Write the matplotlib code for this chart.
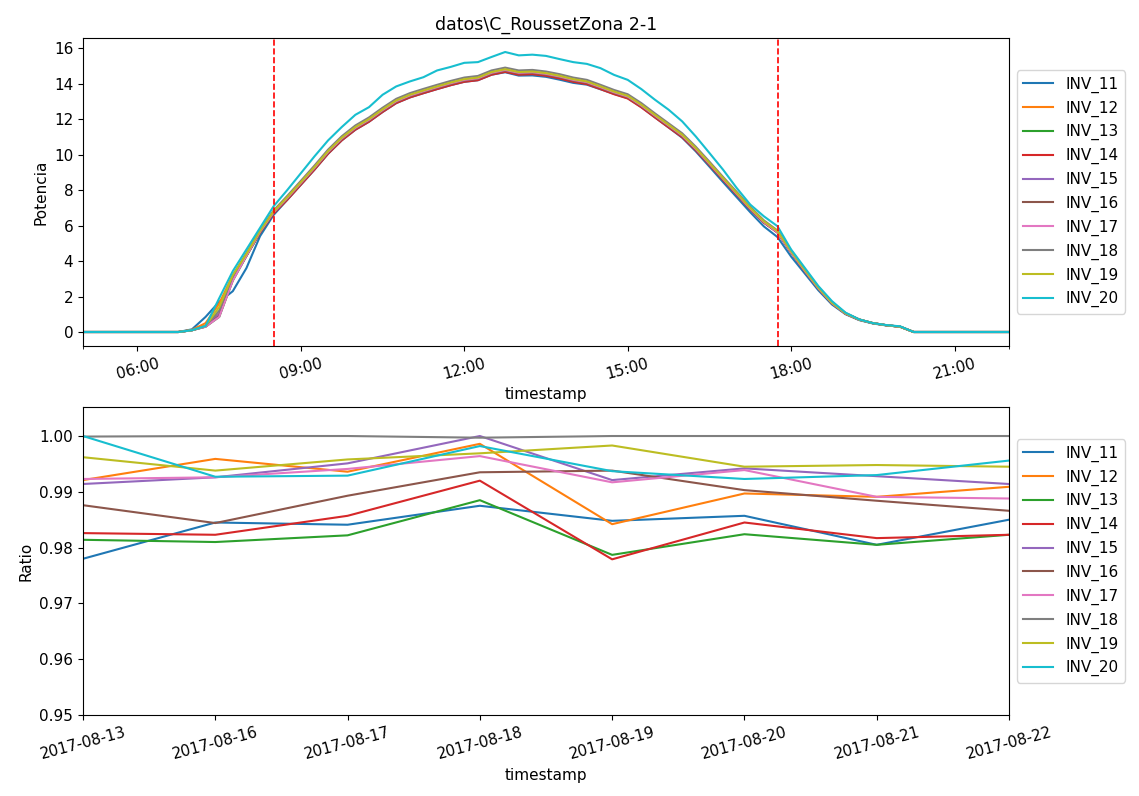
import matplotlib
matplotlib.use("Agg")
import matplotlib.pyplot as plt
import matplotlib.dates as mdates
import pandas as pd

plt.rcParams["font.size"] = 11

# --- top panel: power per inverter, 15 min samples from 05:00 to 22:00
times = pd.date_range("2017-08-22 05:00", "2017-08-22 22:00", freq="15min")

inv_11 = [0, 0, 0, 0, 0, 0, 0, 0,
          0.15, 0.85, 1.7, 2.3, 3.6, 5.4, 6.6, 7.45, 8.3, 9.15, 10.05, 10.8,
          11.4, 11.85, 12.4, 12.9, 13.22, 13.46, 13.69, 13.91, 14.1, 14.19,
          14.5, 14.64, 14.45, 14.46, 14.38, 14.22, 14.04, 13.94, 13.68, 13.42,
          13.18, 12.68, 12.1, 11.53, 10.95, 10.18, 9.32, 8.45, 7.6, 6.75,
          5.95, 5.35, 4.25, 3.3, 2.35, 1.55, 1.0, 0.67, 0.48, 0.37, 0.3,
          0, 0, 0, 0, 0, 0, 0, 0]
inv_12 = [0, 0, 0, 0, 0, 0, 0, 0,
          0.12, 0.5, 1.6, 3.2, 4.4, 5.68, 6.75, 7.53, 8.38, 9.23, 10.13, 10.88,
          11.48, 11.93, 12.48, 12.98, 13.3, 13.54, 13.77, 13.99, 14.18, 14.27,
          14.58, 14.74, 14.58, 14.61, 14.52, 14.37, 14.18, 14.05, 13.77, 13.48,
          13.24, 12.74, 12.17, 11.61, 11.05, 10.3, 9.46, 8.62, 7.78, 6.95,
          6.19, 5.63, 4.5, 3.46, 2.47, 1.63, 1.04, 0.7, 0.5, 0.38, 0.3,
          0, 0, 0, 0, 0, 0, 0, 0]
inv_13 = [0, 0, 0, 0, 0, 0, 0, 0,
          0.1, 0.3, 0.85, 2.9, 4.28, 5.6, 6.72, 7.5, 8.35, 9.2, 10.1, 10.85,
          11.45, 11.9, 12.45, 12.95, 13.27, 13.51, 13.74, 13.96, 14.15, 14.24,
          14.55, 14.71, 14.55, 14.58, 14.49, 14.34, 14.15, 14.02, 13.74, 13.45,
          13.21, 12.71, 12.14, 11.58, 11.03, 10.28, 9.45, 8.6, 7.77, 6.94,
          6.18, 5.62, 4.5, 3.46, 2.47, 1.63, 1.04, 0.7, 0.5, 0.38, 0.3,
          0, 0, 0, 0, 0, 0, 0, 0]
inv_14 = [0, 0, 0, 0, 0, 0, 0, 0,
          0.1, 0.35, 1.0, 3.0, 4.3, 5.6, 6.68, 7.45, 8.3, 9.15, 10.05, 10.8,
          11.4, 11.85, 12.4, 12.9, 13.22, 13.46, 13.69, 13.91, 14.1, 14.19,
          14.5, 14.66, 14.5, 14.53, 14.44, 14.29, 14.1, 13.97, 13.69, 13.4,
          13.16, 12.66, 12.09, 11.53, 10.98, 10.24, 9.41, 8.57, 7.74, 6.91,
          6.16, 5.6, 4.48, 3.44, 2.46, 1.62, 1.03, 0.69, 0.5, 0.38, 0.3,
          0, 0, 0, 0, 0, 0, 0, 0]
inv_15 = [0, 0, 0, 0, 0, 0, 0, 0,
          0.1, 0.32, 1.0, 3.0, 4.35, 5.65, 6.74, 7.54, 8.39, 9.24, 10.14, 10.89,
          11.49, 11.94, 12.49, 12.99, 13.31, 13.55, 13.78, 14.0, 14.19, 14.28,
          14.59, 14.75, 14.59, 14.62, 14.53, 14.38, 14.19, 14.06, 13.78, 13.49,
          13.25, 12.75, 12.18, 11.62, 11.06, 10.31, 9.47, 8.63, 7.79, 6.96,
          6.2, 5.63, 4.51, 3.47, 2.48, 1.64, 1.04, 0.7, 0.5, 0.38, 0.3,
          0, 0, 0, 0, 0, 0, 0, 0]
inv_16 = [0, 0, 0, 0, 0, 0, 0, 0,
          0.1, 0.3, 0.9, 2.95, 4.3, 5.6, 6.72, 7.52, 8.37, 9.22, 10.12, 10.87,
          11.47, 11.92, 12.47, 12.97, 13.29, 13.53, 13.76, 13.98, 14.17, 14.26,
          14.57, 14.73, 14.57, 14.6, 14.51, 14.36, 14.17, 14.04, 13.76, 13.47,
          13.23, 12.73, 12.16, 11.6, 11.05, 10.3, 9.46, 8.62, 7.78, 6.95,
          6.19, 5.63, 4.5, 3.46, 2.47, 1.63, 1.04, 0.7, 0.5, 0.38, 0.3,
          0, 0, 0, 0, 0, 0, 0, 0]
inv_17 = [0, 0, 0, 0, 0, 0, 0, 0,
          0.1, 0.3, 0.85, 2.9, 4.3, 5.65, 6.75, 7.56, 8.41, 9.26, 10.16, 10.91,
          11.51, 11.96, 12.51, 13.01, 13.33, 13.57, 13.8, 14.02, 14.21, 14.3,
          14.61, 14.77, 14.61, 14.64, 14.55, 14.4, 14.21, 14.08, 13.8, 13.51,
          13.27, 12.77, 12.2, 11.64, 11.08, 10.33, 9.49, 8.64, 7.8, 6.96,
          6.2, 5.62, 4.5, 3.46, 2.47, 1.63, 1.04, 0.7, 0.5, 0.38, 0.3,
          0, 0, 0, 0, 0, 0, 0, 0]
inv_18 = [0, 0, 0, 0, 0, 0, 0, 0,
          0.1, 0.35, 1.2, 3.15, 4.45, 5.75, 6.85, 7.67, 8.52, 9.38, 10.28, 11.03,
          11.64, 12.09, 12.64, 13.14, 13.46, 13.7, 13.93, 14.15, 14.34, 14.43,
          14.74, 14.9, 14.74, 14.77, 14.68, 14.53, 14.34, 14.21, 13.93, 13.64,
          13.4, 12.9, 12.32, 11.76, 11.2, 10.44, 9.6, 8.74, 7.9, 7.05,
          6.29, 5.72, 4.6, 3.55, 2.54, 1.68, 1.07, 0.71, 0.5, 0.38, 0.3,
          0, 0, 0, 0, 0, 0, 0, 0]
inv_19 = [0, 0, 0, 0, 0, 0, 0, 0,
          0.1, 0.35, 1.4, 3.2, 4.4, 5.7, 6.8, 7.6, 8.45, 9.3, 10.2, 10.95,
          11.55, 12.0, 12.55, 13.05, 13.37, 13.61, 13.84, 14.06, 14.25, 14.34,
          14.65, 14.81, 14.65, 14.68, 14.59, 14.44, 14.25, 14.12, 13.84, 13.55,
          13.31, 12.81, 12.24, 11.68, 11.12, 10.37, 9.53, 8.68, 7.84, 7.0,
          6.24, 5.68, 4.55, 3.5, 2.5, 1.65, 1.05, 0.7, 0.5, 0.38, 0.3,
          0, 0, 0, 0, 0, 0, 0, 0]
inv_20 = [0, 0, 0, 0, 0, 0, 0, 0,
          0.1, 0.34, 1.9, 3.43, 4.65, 5.87, 7.09, 8.0, 8.95, 9.9, 10.8, 11.55,
          12.24, 12.67, 13.37, 13.84, 14.12, 14.36, 14.74, 14.94, 15.17, 15.21,
          15.5, 15.78, 15.59, 15.63, 15.56, 15.38, 15.21, 15.11, 14.87, 14.49,
          14.21, 13.69, 13.09, 12.53, 11.87, 11.02, 10.09, 9.15, 8.12, 7.18,
          6.52, 5.96, 4.65, 3.62, 2.59, 1.74, 1.09, 0.71, 0.5, 0.39, 0.32,
          0, 0, 0, 0, 0, 0, 0, 0]

power = [inv_11, inv_12, inv_13, inv_14, inv_15, inv_16, inv_17, inv_18, inv_19, inv_20]
names = ["INV_11", "INV_12", "INV_13", "INV_14", "INV_15",
         "INV_16", "INV_17", "INV_18", "INV_19", "INV_20"]

# window limits (red dashed lines)
limits = ["2017-08-22 08:30", "2017-08-22 17:45"]

# --- bottom panel: daily ratio per inverter
days = ["2017-08-13", "2017-08-16", "2017-08-17", "2017-08-18",
        "2017-08-19", "2017-08-20", "2017-08-21", "2017-08-22"]
ratio_11 = [0.9780, 0.9845, 0.9841, 0.9875, 0.9848, 0.9857, 0.9805, 0.9850]
ratio_12 = [0.9921, 0.9959, 0.9936, 0.9986, 0.9842, 0.9897, 0.9891, 0.9909]
ratio_13 = [0.9814, 0.9810, 0.9822, 0.9885, 0.9787, 0.9824, 0.9805, 0.9823]
ratio_14 = [0.9826, 0.9823, 0.9857, 0.9920, 0.9779, 0.9845, 0.9817, 0.9823]
ratio_15 = [0.9914, 0.9926, 0.9951, 1.0000, 0.9921, 0.9942, 0.9928, 0.9914]
ratio_16 = [0.9876, 0.9844, 0.9893, 0.9935, 0.9938, 0.9903, 0.9884, 0.9866]
ratio_17 = [0.9923, 0.9926, 0.9941, 0.9964, 0.9917, 0.9939, 0.9891, 0.9888]
ratio_18 = [0.9999, 1.0000, 1.0000, 0.9997, 1.0000, 1.0000, 1.0000, 1.0000]
ratio_19 = [0.9962, 0.9938, 0.9958, 0.9969, 0.9983, 0.9945, 0.9948, 0.9945]
ratio_20 = [1.0000, 0.9927, 0.9929, 0.9982, 0.9937, 0.9923, 0.9930, 0.9956]
ratios = [ratio_11, ratio_12, ratio_13, ratio_14, ratio_15,
          ratio_16, ratio_17, ratio_18, ratio_19, ratio_20]

fig, (ax1, ax2) = plt.subplots(2, 1, figsize=(11.39, 7.96), dpi=100)
ax1.set_position([83 / 1139, 1 - 346 / 796, 926 / 1139, 308 / 796])
ax2.set_position([83 / 1139, 1 - 715 / 796, 926 / 1139, 308 / 796])

for name, vals in zip(names, power):
    ax1.plot(times, vals, label=name)
for t in limits:
    ax1.axvline(pd.Timestamp(t), color="r", linestyle="--", linewidth=1.2)

ax1.set_xlim(times[0], times[-1])
ax1.xaxis.set_major_locator(mdates.HourLocator(byhour=[6, 9, 12, 15, 18, 21]))
ax1.xaxis.set_major_formatter(mdates.DateFormatter("%H:%M"))
ax1.xaxis.set_minor_locator(mdates.HourLocator(byhour=[5, 22]))
plt.setp(ax1.get_xticklabels(), rotation=15)
ax1.set_yticks(range(0, 17, 2))
ax1.set_xlabel("timestamp")
ax1.set_ylabel("Potencia")
ax1.set_title("datos\\C_RoussetZona 2-1", fontsize=12.5)
ax1.legend(loc="center left", bbox_to_anchor=(1, 0.5))

x = range(len(days))
for name, vals in zip(names, ratios):
    ax2.plot(x, vals, label=name)
ax2.set_xlim(0, len(days) - 1)
ax2.set_ylim(0.95, 1.0052)
ax2.set_xticks(list(x))
ax2.set_xticklabels(days, rotation=15)
ax2.set_yticks([0.95, 0.96, 0.97, 0.98, 0.99, 1.00])
ax2.set_yticklabels(["0.95", "0.96", "0.97", "0.98", "0.99", "1.00"])
ax2.set_xlabel("timestamp")
ax2.set_ylabel("Ratio")
ax2.legend(loc="center left", bbox_to_anchor=(1, 0.5))

fig.savefig("out.png", dpi=100)
